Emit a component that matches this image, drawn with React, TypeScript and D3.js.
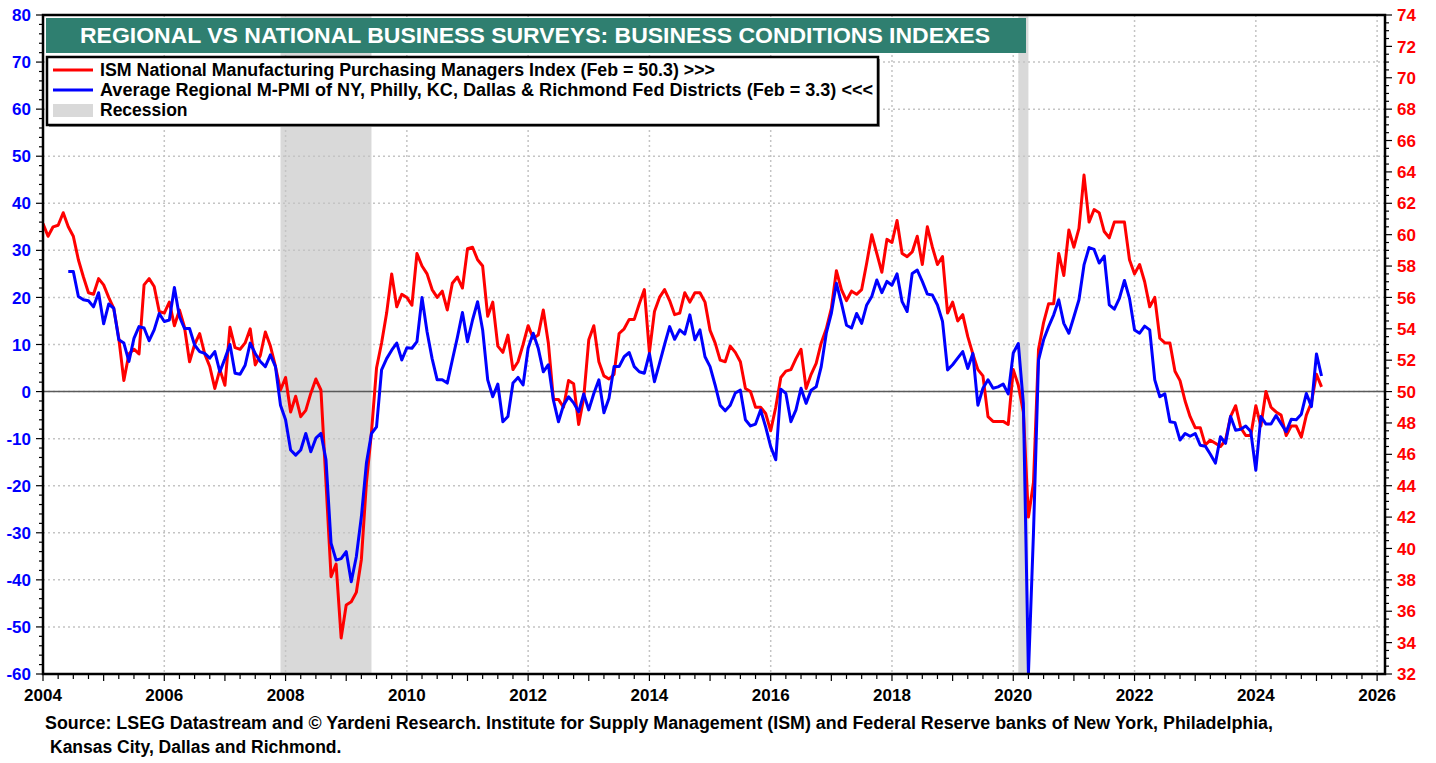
import React from 'react'
import * as d3 from 'd3'

const W = 1436
const H = 763
// plot frame
const X0 = 43
const X1 = 1385
const Y0 = 15
const Y1 = 674

const FONT = "Arial, 'Liberation Sans', sans-serif"

// monthly ISM manufacturing PMI, Jan 2004 - Feb 2025 (right axis)
const ism = [
  60.7, 59.9, 60.5, 60.6, 61.4, 60.5, 59.9, 58.4, 57.3, 56.3, 56.2, 57.2,
  56.8, 56.0, 55.3, 53.4, 50.7, 52.4, 52.7, 52.4, 56.8, 57.2, 56.7, 55.1,
  55.0, 55.7, 54.2, 55.2, 54.1, 51.9, 53.0, 53.7, 52.4, 51.6, 50.2, 51.4,
  50.4, 54.1, 52.8, 52.7, 53.1, 54.0, 51.7, 52.3, 53.8, 52.9, 51.6, 50.1,
  50.9, 48.7, 49.7, 48.4, 48.8, 49.9, 50.8, 50.1, 44.2, 38.2, 39.0, 34.3,
  36.4, 36.6, 37.2, 39.3, 44.2, 47.4, 51.5, 53.1, 55.0, 57.5, 55.4, 56.2,
  56.0, 55.5, 58.8, 58.0, 57.5, 56.5, 56.0, 56.4, 55.2, 56.9, 57.3, 56.6,
  59.1, 59.2, 58.4, 58.0, 54.8, 55.7, 52.9, 52.5, 53.6, 51.4, 51.9, 53.0,
  54.2, 53.4, 53.6, 55.2, 53.1, 49.5, 49.5, 49.0, 50.7, 50.5, 47.9, 49.6,
  53.3, 54.2, 51.9, 51.0, 50.8, 51.1, 53.7, 54.0, 54.6, 54.6, 55.6, 56.5,
  52.5, 55.1, 56.0, 56.5, 55.8, 54.9, 55.0, 56.3, 55.7, 56.3, 56.3, 55.7,
  53.9, 53.1, 52.0, 51.9, 52.9, 52.5, 51.9, 50.2, 50.0, 49.0, 49.0, 48.6,
  47.5, 49.0, 50.9, 51.3, 51.4, 52.1, 52.7, 50.2, 51.1, 51.8, 53.1, 54.0,
  55.3, 57.7, 56.5, 55.8, 56.4, 56.2, 56.5, 58.2, 60.0, 58.8, 57.6, 59.7,
  59.5, 60.9, 58.8, 58.6, 58.9, 59.9, 58.1, 60.5, 59.2, 58.1, 58.6, 55.0,
  55.7, 54.5, 54.9, 53.5, 52.4, 51.4, 51.0, 48.4, 48.1, 48.1, 48.1, 47.9,
  51.4, 50.4, 48.7, 42.0, 44.2, 52.7, 54.4, 55.6, 55.6, 58.8, 57.4, 60.3,
  59.2, 60.4, 63.8, 60.8, 61.6, 61.4, 60.2, 59.8, 60.8, 60.8, 60.8, 58.4,
  57.5, 58.1, 57.0, 55.4, 56.0, 53.4, 53.1, 53.1, 51.3, 50.7, 49.4, 48.4,
  47.7, 47.7, 46.6, 46.9, 46.7, 46.5, 46.9, 48.4, 49.1, 47.7, 47.2, 47.2,
  49.1, 47.8, 50.0, 49.0, 48.7, 48.5, 47.2, 47.8, 47.8, 47.1, 48.5, 49.3,
  51.1, 50.3
]

// average regional Fed business conditions, Jun 2004 - Feb 2025 (left axis)
const regionalStartMonth = 5
const regional = [
  25.5, 25.5, 20.2, 19.5, 19.3, 18.0, 21.0,
  14.4, 18.6, 17.7, 11.0, 10.3, 6.4, 11.3, 13.8, 13.5, 10.8, 13.1, 16.6,
  14.9, 15.2, 22.1, 15.9, 13.4, 13.4, 9.9, 8.5, 8.1, 7.1, 8.5, 4.2,
  7.0, 10.0, 3.9, 3.7, 5.6, 10.3, 8.1, 6.4, 5.3, 7.8, 5.3, -2.9,
  -6.0, -12.4, -13.5, -12.4, -8.9, -12.8, -9.9, -8.9, -14.5, -32.2, -35.8, -35.5,
  -34.0, -40.4, -35.1, -26.6, -15.2, -8.9, -7.5, 4.6, 7.0, 8.8, 10.3, 6.7,
  9.3, 9.2, 10.6, 20.0, 12.7, 7.0, 2.5, 2.5, 1.8, 6.7, 11.5, 16.8,
  10.6, 15.2, 19.1, 13.1, 2.5, -1.1, 1.6, -6.4, -5.3, 1.8, 3.0, 1.4,
  9.2, 12.4, 9.2, 4.2, 5.7, -1.8, -6.4, -2.9, -1.1, -2.4, -4.3, -0.5,
  -3.9, -0.4, 2.5, -4.5, -1.4, 5.3, 5.3, 7.4, 8.3, 5.3, 4.2, 3.9,
  8.1, 2.1, 6.0, 10.0, 13.8, 11.1, 13.1, 12.2, 16.3, 11.0, 13.1, 7.4,
  5.3, 1.4, -2.9, -4.1, -2.9, -0.3, 0.3, -6.0, -7.3, -6.9, -3.9, -7.5,
  -11.7, -14.5, 0.5, -0.4, -6.4, -3.9, 0.7, -2.5, 0.3, 1.0, 5.3, 12.4,
  16.6, 23.0, 18.8, 14.1, 13.5, 16.6, 14.5, 18.4, 20.2, 23.7, 21.0, 23.4,
  22.6, 25.0, 19.1, 17.0, 25.1, 25.8, 23.4, 20.7, 20.5, 18.4, 14.9, 4.6,
  5.7, 7.1, 8.5, 4.9, 8.1, -2.9, 0.7, 2.5, 0.7, 1.0, 1.6, -0.5,
  8.2, 10.2, -2.5, -60.0, -30.0, 6.7, 11.0, 13.8, 16.3, 19.5, 14.5, 12.4,
  15.9, 19.5, 26.9, 30.6, 30.2, 27.3, 28.8, 18.4, 17.5, 19.8, 23.6, 19.8,
  13.1, 12.4, 13.9, 13.1, 2.5, -1.1, -0.5, -6.4, -6.6, -10.3, -8.9, -9.5,
  -8.9, -11.4, -11.6, -13.3, -15.2, -9.6, -11.0, -5.3, -8.2, -8.0, -7.3, -8.5,
  -16.7, -5.3, -6.9, -6.9, -5.1, -6.8, -8.5, -5.9, -6.0, -4.8, -0.4, -3.2,
  8.0, 3.3
]

// recessions [start, end] as year-month
const recessions = [
  ['2007-12', '2009-06'],
  ['2020-02', '2020-04']
]

const leftTicks = d3.range(-60, 81, 10)
const rightTicks = d3.range(32, 75, 2)
const yearTicks = d3.range(2004, 2027, 2)

const title = 'REGIONAL VS NATIONAL BUSINESS SURVEYS: BUSINESS CONDITIONS INDEXES'
const legendItems = [
  'ISM National Manufacturing Purchasing Managers Index (Feb = 50.3) >>>',
  'Average Regional M-PMI of NY, Philly, KC, Dallas & Richmond Fed Districts (Feb = 3.3) <<<',
  'Recession'
]
// measured widths of the legend lines in the original
const legendWidths = [615, 773, 0]
const footer = [
  'Source: LSEG Datastream and © Yardeni Research. Institute for Supply Management (ISM) and Federal Reserve banks of New York, Philadelphia,',
  'Kansas City, Dallas and Richmond.'
]

const ym = (s: string) => {
  const [y, m] = s.split('-').map(Number)
  return y + (m - 1) / 12
}

export default function App() {
  const x = d3.scaleLinear().domain([2004, 2026.13]).range([X0, X1])
  const yL = d3.scaleLinear().domain([-60, 80]).range([Y1, Y0])
  const yR = d3.scaleLinear().domain([32, 74]).range([Y1, Y0])

  const redLine = d3
    .line<number>()
    .x((d, i) => x(2004 + i / 12))
    .y((d) => yR(d))
  const blueLine = d3
    .line<number>()
    .x((d, i) => x(2004 + (i + regionalStartMonth) / 12))
    .y((d) => yL(d))

  const quarterTicks = d3.range(0, 22.25 * 4).map((q) => 2004 + q / 4).filter((t) => t <= 2026.13)
  const minorLeft = d3.range(-60, 81, 2)
  const minorRight = d3.range(32, 74.01, 0.5)

  const grid = { stroke: '#c4c4c4', strokeWidth: 1.5, strokeDasharray: '2,3' }

  return (
    <div style={{ position: 'absolute', left: 0, top: 0 }}>
      <svg width={W} height={H} style={{ display: 'block', background: '#fff' }} fontFamily={FONT}>
        <defs>
          <clipPath id="plot">
            <rect x={X0} y={Y0} width={X1 - X0} height={Y1 - Y0} />
          </clipPath>
        </defs>

        {/* recessions */}
        {recessions.map(([a, b]) => (
          <rect key={a} x={x(ym(a))} y={Y0} width={x(ym(b)) - x(ym(a))} height={Y1 - Y0} fill="#d9d9d9" />
        ))}

        {/* grid */}
        {leftTicks.filter((t) => t > -60 && t < 80).map((t) => (
          <line key={'h' + t} x1={X0} x2={X1} y1={yL(t)} y2={yL(t)} {...grid} />
        ))}
        {yearTicks.filter((t) => t > 2004).map((t) => (
          <line key={'v' + t} x1={x(t)} x2={x(t)} y1={Y0} y2={Y1} {...grid} />
        ))}
        <line x1={X0} x2={X1} y1={yL(0)} y2={yL(0)} stroke="#5a5a5a" strokeWidth={1.5} />

        {/* series */}
        <g clipPath="url(#plot)">
          <path d={redLine(ism) || ''} fill="none" stroke="#ff0000" strokeWidth={3} strokeLinejoin="round" />
          <path d={blueLine(regional) || ''} fill="none" stroke="#0000ff" strokeWidth={3} strokeLinejoin="round" />
        </g>

        {/* frame */}
        <rect x={X0} y={Y0} width={X1 - X0} height={Y1 - Y0} fill="none" stroke="#000" strokeWidth={2.5} />

        {/* left axis */}
        {minorLeft.map((t) => (
          <line key={'lm' + t} x1={X0 - (t % 10 === 0 ? 7 : 4)} x2={X0} y1={yL(t)} y2={yL(t)} stroke="#000" strokeWidth={1.2} />
        ))}
        {leftTicks.map((t) => (
          <text key={'lt' + t} x={31} y={yL(t)} dy="0.36em" textAnchor="end" fill="#0000ff" fontWeight="bold" fontSize={17}>
            {t}
          </text>
        ))}

        {/* right axis */}
        {minorRight.map((t) => (
          <line key={'rm' + t} x1={X1} x2={X1 + (t % 2 === 0 ? 7 : 4)} y1={yR(t)} y2={yR(t)} stroke="#000" strokeWidth={1.2} />
        ))}
        {rightTicks.map((t) => (
          <text key={'rt' + t} x={1397} y={yR(t)} dy="0.36em" fill="#ff0000" fontWeight="bold" fontSize={17}>
            {t}
          </text>
        ))}

        {/* bottom axis */}
        {quarterTicks.map((t) => (
          <line key={'bm' + t} x1={x(t)} x2={x(t)} y1={Y1} y2={Y1 + (Number.isInteger(t) ? 7 : 5)} stroke="#000" strokeWidth={1.2} />
        ))}
        {yearTicks.map((t) => (
          <text key={'bt' + t} x={x(t)} y={701} textAnchor="middle" fill="#000" fontWeight="bold" fontSize={17}>
            {t}
          </text>
        ))}

        {/* title banner */}
        <rect x={46} y={18} width={980} height={35} fill="#2f7f70" />
        <text x={80} y={43} fill="#fff" fontWeight="bold" fontSize={22} textLength={910} lengthAdjust="spacingAndGlyphs">
          {title}
        </text>

        {/* legend */}
        <rect x={49} y={59} width={831} height={68} fill="#999" />
        <rect x={47} y={57} width={831} height={68} fill="#fff" stroke="#000" strokeWidth={2.5} />
        <line x1={53} x2={93} y1={70} y2={70} stroke="#ff0000" strokeWidth={3} />
        <line x1={53} x2={93} y1={90} y2={90} stroke="#0000ff" strokeWidth={3} />
        <rect x={53} y={104} width={40} height={13} fill="#d9d9d9" />
        {legendItems.map((s, i) => (
          <text
            key={s}
            x={100}
            y={76 + i * 20}
            fill="#000"
            fontWeight="bold"
            fontSize={17.5}
            textLength={legendWidths[i] || undefined}
            lengthAdjust="spacingAndGlyphs"
          >
            {s}
          </text>
        ))}

        {/* footer */}
        <text x={45} y={729} fill="#000" fontWeight="bold" fontSize={17.5} textLength={1228} lengthAdjust="spacingAndGlyphs">
          {footer[0]}
        </text>
        <text x={50} y={753} fill="#000" fontWeight="bold" fontSize={17.5}>
          {footer[1]}
        </text>
      </svg>
    </div>
  )
}
